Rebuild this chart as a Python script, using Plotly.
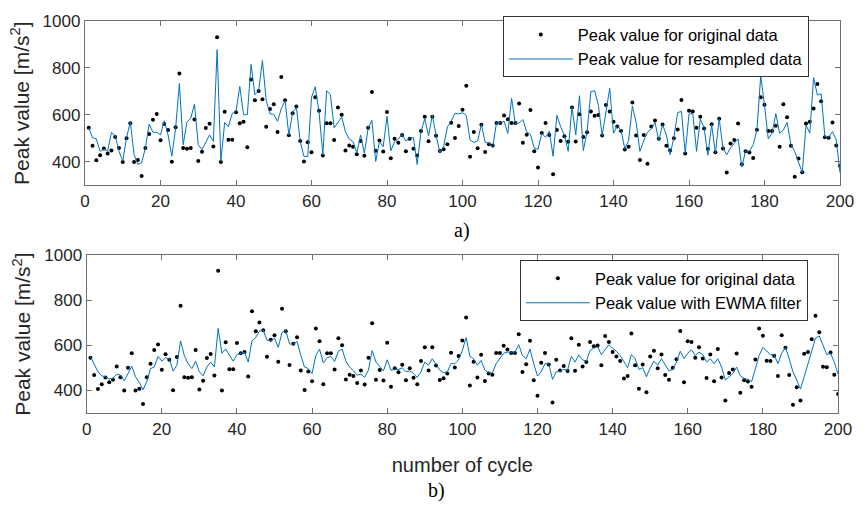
import plotly.graph_objects as go

cycles = list(range(1, 201))

original = [545, 469, 407, 428, 457, 436, 448, 506, 459, 400, 501, 565, 400, 408, 340, 459, 519, 579, 604, 492,
            561, 536, 401, 548, 776, 459, 456, 459, 580, 404, 443, 544, 562, 466, 931, 400, 614, 494, 494, 611,
            565, 571, 462, 751, 663, 702, 667, 550, 625, 645, 527, 762, 663, 513, 607, 636, 489, 402, 484, 441,
            675, 618, 427, 565, 565, 493, 632, 601, 449, 470, 464, 433, 489, 426, 545, 698, 447, 491, 444, 612,
            416, 499, 481, 514, 445, 499, 456, 427, 531, 592, 488, 592, 511, 446, 454, 475, 567, 502, 553, 622,
            724, 422, 527, 458, 558, 442, 475, 470, 566, 566, 598, 582, 566, 566, 649, 482, 516, 621, 445, 376,
            523, 566, 515, 347, 536, 489, 509, 486, 632, 487, 603, 506, 526, 615, 596, 600, 512, 642, 615, 571,
            551, 531, 453, 464, 653, 512, 408, 515, 392, 551, 576, 498, 559, 469, 448, 501, 538, 664, 436, 618,
            615, 545, 592, 542, 455, 560, 441, 584, 457, 355, 478, 493, 564, 390, 445, 440, 417, 537, 675, 643,
            532, 531, 554, 464, 645, 590, 469, 337, 414, 356, 563, 571, 627, 732, 658, 505, 503, 568, 470, 384]

resampled = [545, 503, 498, 445, 456, 445, 526, 512, 445, 403, 503, 570, 431, 389, 396, 459, 561, 526, 526, 515,
             575, 515, 424, 543, 734, 473, 570, 585, 646, 473, 452, 487, 515, 487, 878, 403, 568, 550, 606, 615,
             721, 601, 601, 815, 686, 703, 832, 661, 605, 602, 573, 626, 661, 514, 610, 632, 489, 423, 423, 675,
             720, 612, 430, 703, 686, 545, 567, 591, 528, 497, 486, 437, 514, 437, 542, 577, 402, 486, 465, 594,
             447, 486, 497, 518, 489, 503, 503, 389, 528, 584, 511, 598, 514, 441, 465, 549, 573, 607, 604, 609,
             598, 493, 483, 489, 559, 483, 479, 461, 566, 566, 573, 521, 671, 561, 566, 580, 528, 517, 459, 453,
             521, 505, 530, 424, 598, 550, 512, 445, 634, 515, 682, 448, 529, 699, 703, 641, 512, 613, 713, 522,
             554, 534, 456, 490, 638, 568, 445, 490, 526, 540, 568, 490, 559, 515, 431, 504, 610, 615, 436, 604,
             606, 445, 582, 545, 428, 559, 438, 584, 459, 431, 459, 480, 498, 378, 448, 445, 473, 536, 766, 641,
             498, 522, 606, 522, 536, 568, 473, 445, 403, 354, 557, 522, 759, 685, 690, 508, 506, 529, 494, 354]

ewma = [551, 519, 483, 465, 461, 451, 454, 472, 468, 443, 472, 507, 461, 436, 403, 439, 497, 504, 551, 530,
        545, 541, 486, 512, 620, 555, 519, 497, 530, 483, 465, 504, 526, 504, 675, 565, 584, 555, 530, 559,
        565, 570, 526, 620, 635, 664, 668, 623, 620, 632, 591, 657, 666, 606, 606, 617, 555, 504, 497, 475,
        555, 583, 522, 545, 551, 529, 574, 584, 530, 504, 487, 468, 472, 458, 490, 577, 526, 507, 487, 536,
        490, 493, 493, 501, 483, 487, 475, 458, 483, 526, 512, 541, 514, 490, 478, 483, 519, 519, 536, 577,
        635, 551, 541, 512, 533, 490, 478, 478, 519, 545, 565, 570, 570, 570, 603, 555, 541, 584, 519, 464,
        483, 519, 519, 449, 483, 485, 493, 490, 551, 526, 558, 536, 530, 577, 588, 594, 559, 584, 603, 588,
        574, 555, 526, 501, 559, 541, 493, 501, 461, 501, 530, 512, 541, 512, 487, 493, 526, 574, 541, 565,
        580, 555, 570, 559, 526, 541, 519, 541, 504, 446, 461, 475, 504, 464, 454, 449, 439, 497, 555, 591,
        574, 559, 559, 519, 565, 591, 541, 483, 446, 406, 461, 519, 577, 632, 642, 599, 559, 565, 526, 472]

x_ticks = [0, 20, 40, 60, 80, 100, 120, 140, 160, 180, 200]
y_ticks = [400, 600, 800, 1000]

BLUE = "#0072BD"
AXC = "#707070"
TXT = "#262626"
FONT = "Liberation Sans, Arial, sans-serif"

fig = go.Figure()

fig.add_trace(go.Scatter(x=cycles, y=original, mode="markers", name="Peak value for original data",
                         marker=dict(color="black", size=4), xaxis="x", yaxis="y", legend="legend"))
fig.add_trace(go.Scatter(x=cycles, y=resampled, mode="lines", name="Peak value for resampled data",
                         line=dict(color=BLUE, width=1), xaxis="x", yaxis="y", legend="legend"))
fig.add_trace(go.Scatter(x=cycles, y=original, mode="markers", name="Peak value for original data",
                         marker=dict(color="black", size=4), xaxis="x2", yaxis="y2", legend="legend2"))
fig.add_trace(go.Scatter(x=cycles, y=ewma, mode="lines", name="Peak value with EWMA filter",
                         line=dict(color=BLUE, width=1), xaxis="x2", yaxis="y2", legend="legend2"))

axis_common = dict(showline=True, linecolor=AXC, linewidth=1.3, mirror="ticks", ticks="inside",
                   ticklen=5, tickcolor=AXC, tickwidth=1, showgrid=False, zeroline=False,
                   tickfont=dict(family=FONT, size=17, color=TXT))

fig.update_layout(
    width=866, height=505,
    margin=dict(l=85, r=19, t=14, b=92),
    paper_bgcolor="white", plot_bgcolor="white",
    xaxis=dict(domain=[0, 1], range=[0, 200], tickvals=x_ticks, anchor="y", **axis_common),
    yaxis=dict(domain=[0.5807, 1], range=[300, 1000], tickvals=y_ticks, anchor="x",
               title=dict(text="Peak value [m/s<sup>2</sup>]", font=dict(family=FONT, size=21, color=TXT),
                          standoff=7), **axis_common),
    xaxis2=dict(domain=[0.0022, 0.9974], range=[0, 200], tickvals=x_ticks, anchor="y2",
                title=dict(text="number of cycle", font=dict(family=FONT, size=20, color=TXT), standoff=20),
                **axis_common),
    yaxis2=dict(domain=[0, 0.4025], range=[300, 1000], tickvals=y_ticks, anchor="x2",
                title=dict(text="Peak value [m/s<sup>2</sup>]", font=dict(family=FONT, size=21, color=TXT),
                           standoff=7), **axis_common),
    legend=dict(x=0.5534, y=1.012, xanchor="left", yanchor="top", bgcolor="white",
                bordercolor="#333333", borderwidth=1, itemwidth=64,
                font=dict(family=FONT, size=16.5, color="black"), tracegroupgap=0),
    legend2=dict(x=0.576, y=0.39, xanchor="left", yanchor="top", bgcolor="white",
                 bordercolor="#333333", borderwidth=1, itemwidth=64,
                 font=dict(family=FONT, size=16.5, color="black"), tracegroupgap=0),
    showlegend=True,
    annotations=[
        dict(text="a)", x=0.4987, y=0.4643, xref="paper", yref="paper", showarrow=False,
             xanchor="center", yanchor="middle",
             font=dict(family="Liberation Serif, Times New Roman, serif", size=20, color="black")),
        dict(text="b)", x=0.4659, y=-0.1965, xref="paper", yref="paper", showarrow=False,
             xanchor="center", yanchor="middle",
             font=dict(family="Liberation Serif, Times New Roman, serif", size=20, color="black")),
    ],
)

fig.write_html("out.html")
